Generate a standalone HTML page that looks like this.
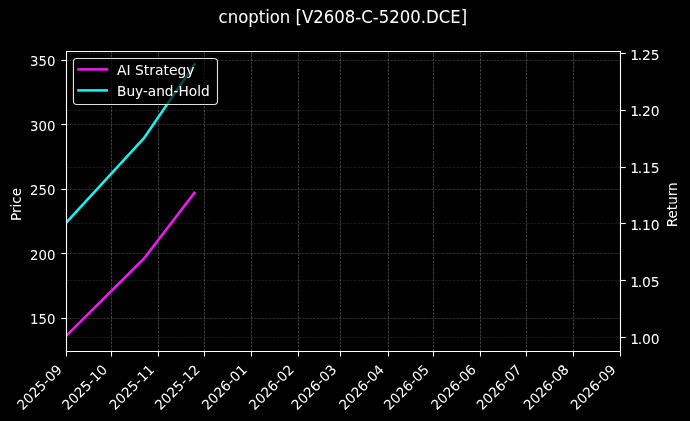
<!DOCTYPE html>
<html><head><meta charset="utf-8"><title>cnoption [V2608-C-5200.DCE]</title>
<style>
html,body{margin:0;padding:0;background:#000;}
body{width:690px;height:421px;overflow:hidden;}
svg{display:block;}
text{font-family:"DejaVu Sans","Liberation Sans",sans-serif;fill:#fff;}
.t10{font-size:13.889px;}
.t12{font-size:16.667px;}
</style></head><body>
<svg width="690" height="421" viewBox="0 0 690 421">
<rect width="690" height="421" fill="#000"/>
<defs><clipPath id="ax"><rect x="66.5" y="51.5" width="554.0" height="300.0"/></clipPath></defs>

<g fill="none" stroke-width="0.694" stroke-dasharray="2.57 1.11">
<g stroke="rgba(255,255,255,0.36)">
<path d="M66.5 351.5V51.5"/>
<path d="M111.5 351.5V51.5"/>
<path d="M158.5 351.5V51.5"/>
<path d="M204.5 351.5V51.5"/>
<path d="M251.5 351.5V51.5"/>
<path d="M298.5 351.5V51.5"/>
<path d="M340.5 351.5V51.5"/>
<path d="M388.5 351.5V51.5"/>
<path d="M433.5 351.5V51.5"/>
<path d="M480.5 351.5V51.5"/>
<path d="M526.5 351.5V51.5"/>
<path d="M573.5 351.5V51.5"/>
<path d="M620.5 351.5V51.5"/>
</g>
<g stroke="rgba(255,255,255,0.26)">
<path d="M66.5 60.5H620.5"/>
<path d="M66.5 124.5H620.5"/>
<path d="M66.5 189.5H620.5"/>
<path d="M66.5 253.5H620.5"/>
<path d="M66.5 318.5H620.5"/>
</g>
<g stroke="rgba(255,255,255,0.15)">
<path d="M66.5 53.5H620.5"/>
<path d="M66.5 110.5H620.5"/>
<path d="M66.5 167.5H620.5"/>
<path d="M66.5 223.5H620.5"/>
<path d="M66.5 280.5H620.5"/>
<path d="M66.5 337.5H620.5"/>
</g></g>
<g clip-path="url(#ax)" fill="none" stroke-width="2.55" stroke-linejoin="round" stroke-linecap="square">
<path stroke="#1cf2ec" d="M60 229.5 L66.5 222.3 L144.2 137.8 L194.6 64.4"/>
<path stroke="#ee1aee" d="M60 342.2 L66.5 335.6 L144.1 258.5 L194.4 192.9"/>
</g>
<g fill="none" stroke="#fff" stroke-width="1.11">
<path stroke-linecap="square" d="M66.5 51.5H620.5V351.5H66.5Z"/>
<path d="M66.5 351.5v5.0"/>
<path d="M111.5 351.5v5.0"/>
<path d="M158.5 351.5v5.0"/>
<path d="M204.5 351.5v5.0"/>
<path d="M251.5 351.5v5.0"/>
<path d="M298.5 351.5v5.0"/>
<path d="M340.5 351.5v5.0"/>
<path d="M388.5 351.5v5.0"/>
<path d="M433.5 351.5v5.0"/>
<path d="M480.5 351.5v5.0"/>
<path d="M526.5 351.5v5.0"/>
<path d="M573.5 351.5v5.0"/>
<path d="M620.5 351.5v5.0"/>
<path d="M66.5 60.5h-5.3"/>
<path d="M66.5 124.5h-5.3"/>
<path d="M66.5 189.5h-5.3"/>
<path d="M66.5 253.5h-5.3"/>
<path d="M66.5 318.5h-5.3"/>
<path d="M620.5 53.5h5.3"/>
<path d="M620.5 110.5h5.3"/>
<path d="M620.5 167.5h5.3"/>
<path d="M620.5 223.5h5.3"/>
<path d="M620.5 280.5h5.3"/>
<path d="M620.5 337.5h5.3"/>
</g>
<g class="t10">
<text style="font-size:13.65px" text-anchor="end" transform="translate(63.00 370.55) rotate(-45)">2025-09</text>
<text style="font-size:13.65px" text-anchor="end" transform="translate(108.13 370.55) rotate(-45)">2025-10</text>
<text style="font-size:13.65px" text-anchor="end" transform="translate(155.19 370.55) rotate(-45)">2025-11</text>
<text style="font-size:13.65px" text-anchor="end" transform="translate(200.72 370.55) rotate(-45)">2025-12</text>
<text style="font-size:13.65px" text-anchor="end" transform="translate(247.77 370.55) rotate(-45)">2026-01</text>
<text style="font-size:13.65px" text-anchor="end" transform="translate(294.82 370.55) rotate(-45)">2026-02</text>
<text style="font-size:13.65px" text-anchor="end" transform="translate(337.32 370.55) rotate(-45)">2026-03</text>
<text style="font-size:13.65px" text-anchor="end" transform="translate(384.98 370.55) rotate(-45)">2026-04</text>
<text style="font-size:13.65px" text-anchor="end" transform="translate(429.91 370.55) rotate(-45)">2026-05</text>
<text style="font-size:13.65px" text-anchor="end" transform="translate(476.96 370.55) rotate(-45)">2026-06</text>
<text style="font-size:13.65px" text-anchor="end" transform="translate(522.50 370.55) rotate(-45)">2026-07</text>
<text style="font-size:13.65px" text-anchor="end" transform="translate(569.55 370.55) rotate(-45)">2026-08</text>
<text style="font-size:13.65px" text-anchor="end" transform="translate(616.60 370.55) rotate(-45)">2026-09</text>
<text style="font-size:13.3px" text-anchor="end" x="55.4" y="65.90">350</text>
<text style="font-size:13.3px" text-anchor="end" x="55.4" y="131.00">300</text>
<text style="font-size:13.3px" text-anchor="end" x="55.4" y="194.90">250</text>
<text style="font-size:13.3px" text-anchor="end" x="55.4" y="259.90">200</text>
<text style="font-size:13.3px" text-anchor="end" x="55.4" y="323.90">150</text>
<text x="630.2" y="59.80" dx="0 -1.4">1.25</text>
<text x="630.2" y="115.90" dx="0 -1.4">1.20</text>
<text x="630.2" y="172.90" dx="0 -1.4">1.15</text>
<text x="630.2" y="229.90" dx="0 -1.4">1.10</text>
<text x="630.2" y="286.90" dx="0 -1.4">1.05</text>
<text x="630.2" y="343.90" dx="0 -1.4">1.00</text>
<text style="font-size:13.55px" text-anchor="middle" transform="translate(20.8 204.5) rotate(-90)">Price</text>
<text style="font-size:13.5px" text-anchor="middle" transform="translate(677.2 204.8) rotate(-90)">Return</text>
</g>
<text style="font-size:16.52px" text-anchor="middle" transform="translate(342.85 23.3) scale(1 1.05)">cnoption [V2608-C-5200.DCE]</text>
<g>
<rect x="73.44" y="58.44" width="144.06" height="46.06" rx="3.4" ry="3.4" fill="rgba(0,0,0,0.7)" stroke="rgb(224,224,224)" stroke-width="1.11"/>
<path d="M78.5 69.4h28.2" stroke="#ee1aee" stroke-width="2.55" stroke-linecap="square" fill="none"/>
<path d="M78.5 90.4h28.2" stroke="#1cf2ec" stroke-width="2.55" stroke-linecap="square" fill="none"/>
<text style="font-size:13.9px" x="117.0" y="74.8">AI Strategy</text>
<text style="font-size:13.68px" x="117.0" y="95.7">Buy-and-Hold</text>
</g>
</svg></body></html>
